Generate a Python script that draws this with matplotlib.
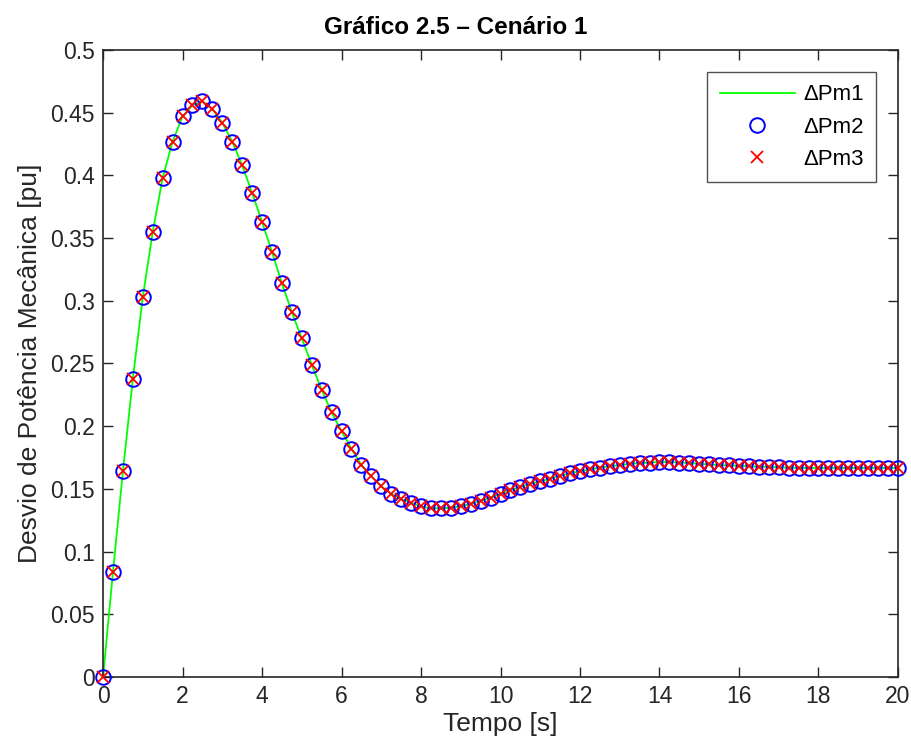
import numpy as np
import matplotlib
matplotlib.use("Agg")
import matplotlib.pyplot as plt

plt.rcParams['font.family'] = ['Liberation Sans', 'DejaVu Sans']

# Time samples [s]
tempo = np.arange(0, 20.001, 0.25)

# Mechanical power deviation [pu]
dpm = [
    0.000, 0.084, 0.164, 0.238, 0.303, 0.355, 0.398, 0.427, 0.447, 0.456,
    0.459, 0.453, 0.442, 0.427, 0.408, 0.386, 0.363, 0.339, 0.314, 0.291,
    0.270, 0.249, 0.229, 0.211, 0.196, 0.182, 0.169, 0.160, 0.152, 0.146,
    0.142, 0.139, 0.136, 0.1345, 0.1345, 0.135, 0.136, 0.138, 0.1405, 0.143,
    0.146, 0.149, 0.1515, 0.154, 0.156, 0.158, 0.1605, 0.1625, 0.164, 0.1655,
    0.167, 0.168, 0.169, 0.170, 0.1705, 0.171, 0.1715, 0.1715, 0.171, 0.1707,
    0.170, 0.1695, 0.169, 0.1687, 0.1685, 0.168, 0.1678, 0.1675, 0.1672, 0.167,
    0.1668, 0.1667, 0.1667, 0.1667, 0.1667, 0.1667, 0.1667, 0.1667, 0.1667, 0.1667,
    0.1667,
]
dpm1 = dpm
dpm2 = dpm
dpm3 = dpm

labels = ['ΔPm1', 'ΔPm2', 'ΔPm3']
title = 'Gráfico 2.5 – Cenário 1'
xlabel = 'Tempo [s]'
ylabel = 'Desvio de Potência Mecânica [pu]'

fig = plt.figure(figsize=(9.12, 7.56), dpi=100)
ax = fig.add_axes([0.113, 0.1045, 0.8716, 0.8294])

ax.plot(tempo, dpm1, color='#00ff00', lw=1.3, label=labels[0], zorder=2)
ax.plot(tempo, dpm2, ls='none', marker='o', ms=10.5, mfc='none', mec='#0000ff',
        mew=1.4, label=labels[1], zorder=3, clip_on=False)
ax.plot(tempo, dpm3, ls='none', marker='x', ms=8.5, mec='#ff0000', mew=1.3,
        label=labels[2], zorder=4, clip_on=False)

ax.set_xlim(0, 20)
ax.set_ylim(0, 0.5)
ax.set_xticks(np.arange(0, 21, 2))
ax.set_yticks(np.arange(0, 0.501, 0.05))
ax.set_yticklabels(['0', '0.05', '0.1', '0.15', '0.2', '0.25', '0.3', '0.35',
                    '0.4', '0.45', '0.5'])

gray = '#262626'
for s in ax.spines.values():
    s.set_color(gray)
    s.set_linewidth(1.2)
ax.tick_params(direction='in', length=7, width=1, colors=gray, labelsize=16.5,
               top=True, right=True, pad=6)

ax.set_xlabel(xlabel, fontsize=19, color=gray, labelpad=3)
ax.set_ylabel(ylabel, fontsize=19, color=gray, labelpad=6)
fig.text(0.5, 0.963, title, ha='center', va='center', fontsize=17.5,
         fontweight='bold', color='black')

leg = ax.legend(loc='upper right', fontsize=16, frameon=True, fancybox=False,
                edgecolor=gray, borderaxespad=1.0, handlelength=3.4,
                handletextpad=0.35, labelspacing=0.5, borderpad=0.55)
leg.get_frame().set_linewidth(1.0)

fig.savefig('out.png', dpi=100)
